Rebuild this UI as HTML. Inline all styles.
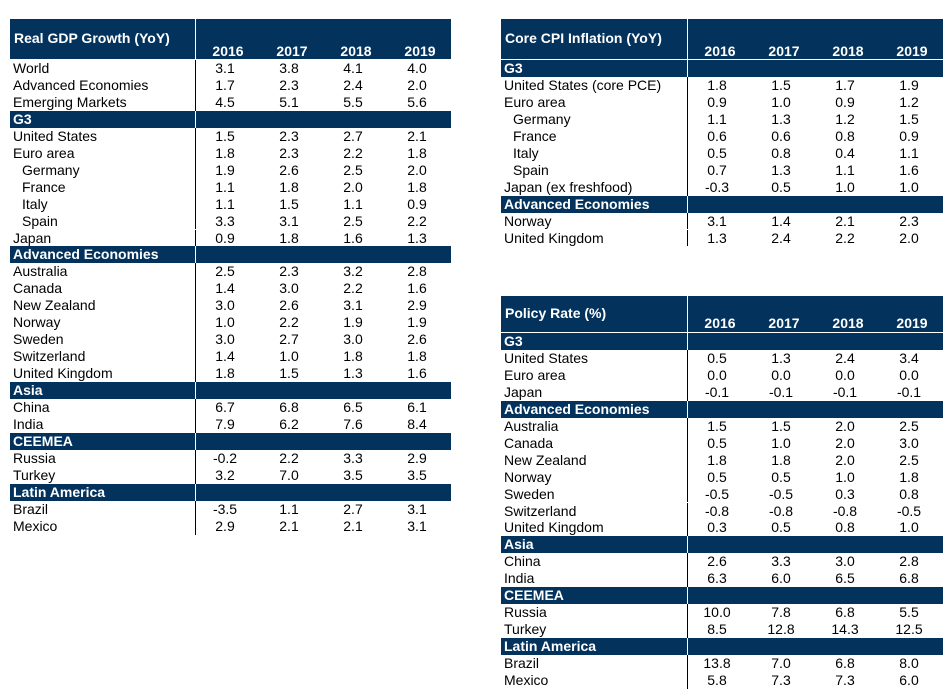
<!DOCTYPE html>
<html><head><meta charset="utf-8">
<style>
body{margin:0;width:943px;height:689px;background:#fff;position:relative;overflow:hidden;font-family:"Liberation Sans",Arial,sans-serif;}
.t{position:absolute;}
.hd{position:absolute;background:#03335d;color:#fff;font-weight:bold;font-size:14px;}
.row{position:absolute;height:17px;font-size:14px;line-height:17px;color:#000;}
.bar{background:#03335d;color:#fff;font-weight:bold;}
.c{position:absolute;text-align:center;width:60px;}
.lbl{position:absolute;white-space:nowrap;}
.vl{position:absolute;width:1px;background:#000;}
.wl{position:absolute;width:1px;background:#fff;}
</style></head><body>
<script>
// Real GDP growth
const gdpLabels=["World","Advanced Economies","Emerging Markets","#G3","United States","Euro area",">Germany",">France",">Italy",">Spain","Japan","#Advanced Economies","Australia","Canada","New Zealand","Norway","Sweden","Switzerland","United Kingdom","#Asia","China","India","#CEEMEA","Russia","Turkey","#Latin America","Brazil","Mexico"];
const gdpValues=[["3.1","3.8","4.1","4.0"],["1.7","2.3","2.4","2.0"],["4.5","5.1","5.5","5.6"],null,["1.5","2.3","2.7","2.1"],["1.8","2.3","2.2","1.8"],["1.9","2.6","2.5","2.0"],["1.1","1.8","2.0","1.8"],["1.1","1.5","1.1","0.9"],["3.3","3.1","2.5","2.2"],["0.9","1.8","1.6","1.3"],null,["2.5","2.3","3.2","2.8"],["1.4","3.0","2.2","1.6"],["3.0","2.6","3.1","2.9"],["1.0","2.2","1.9","1.9"],["3.0","2.7","3.0","2.6"],["1.4","1.0","1.8","1.8"],["1.8","1.5","1.3","1.6"],null,["6.7","6.8","6.5","6.1"],["7.9","6.2","7.6","8.4"],null,["-0.2","2.2","3.3","2.9"],["3.2","7.0","3.5","3.5"],null,["-3.5","1.1","2.7","3.1"],["2.9","2.1","2.1","3.1"]];
// Core CPI
const cpiLabels=["#G3","United States (core PCE)","Euro area",">Germany",">France",">Italy",">Spain","Japan (ex freshfood)","#Advanced Economies","Norway","United Kingdom"];
const cpiValues=[null,["1.8","1.5","1.7","1.9"],["0.9","1.0","0.9","1.2"],["1.1","1.3","1.2","1.5"],["0.6","0.6","0.8","0.9"],["0.5","0.8","0.4","1.1"],["0.7","1.3","1.1","1.6"],["-0.3","0.5","1.0","1.0"],null,["3.1","1.4","2.1","2.3"],["1.3","2.4","2.2","2.0"]];
// Policy rate
const polLabels=["#G3","United States","Euro area","Japan","#Advanced Economies","Australia","Canada","New Zealand","Norway","Sweden","Switzerland","United Kingdom","#Asia","China","India","#CEEMEA","Russia","Turkey","#Latin America","Brazil","Mexico"];
const polValues=[null,["0.5","1.3","2.4","3.4"],["0.0","0.0","0.0","0.0"],["-0.1","-0.1","-0.1","-0.1"],null,["1.5","1.5","2.0","2.5"],["0.5","1.0","2.0","3.0"],["1.8","1.8","2.0","2.5"],["0.5","0.5","1.0","1.8"],["-0.5","-0.5","0.3","0.8"],["-0.8","-0.8","-0.8","-0.5"],["0.3","0.5","0.8","1.0"],null,["2.6","3.3","3.0","2.8"],["6.3","6.0","6.5","6.8"],null,["10.0","7.8","6.8","5.5"],["8.5","12.8","14.3","12.5"],null,["13.8","7.0","6.8","8.0"],["5.8","7.3","7.3","6.0"]];
const years=["2016","2017","2018","2019"];

function build(name,title,labels,values,x0,x1,div,y0,hh,titleY,yearsY,rowH){
  const w=document.createElement('div');
  w.className='t';
  
  
  document.body.appendChild(w);
  const hd=document.createElement('div');
  hd.className='hd';
  
  
  hd.style.cssText=`left:${x0}px;top:${y0}px;width:${x1-x0}px;height:${hh}px;`;
  const tt=document.createElement('div');
  tt.className='lbl';
  
  
  tt.style.cssText=`left:4px;top:${titleY}px;`;
  tt.textContent=title;
  hd.appendChild(tt);
  years.forEach((yr,i)=>{
    const c=document.createElement('div');
    c.className='c';
    
    
    c.style.cssText=`left:${div-x0+3+i*64}px;top:${yearsY}px;`;
    c.textContent=yr;
    hd.appendChild(c);
  });
  w.appendChild(hd);
  const wl=document.createElement('div');
  wl.className='wl';
  wl.style.cssText=`left:${div}px;top:${y0}px;height:${hh}px;`;
  w.appendChild(wl);
  let y=y0+hh+1;
  labels.forEach((lab,r)=>{
    const ry=y+r*rowH;
    const row=document.createElement('div');
    row.className='row';
    row.style.cssText=`left:${x0}px;top:${ry}px;width:${x1-x0}px;height:${rowH}px;line-height:${rowH}px;`;
    if(lab[0]==='#'){
      row.classList.add('bar');
      
      
      const l=document.createElement('div');
      l.className='lbl';l.style.left='3px';l.textContent=lab.slice(1);
      row.appendChild(l);
      const s=document.createElement('div');
      s.className='wl';s.style.cssText=`left:${div-x0}px;top:0;height:${rowH}px;`;
      row.appendChild(s);
    } else {
      
      
      const ind=lab[0]==='>';
      const l=document.createElement('div');
      l.className='lbl';l.style.left=(ind?12:3)+'px';l.textContent=ind?lab.slice(1):lab;
      row.appendChild(l);
      const s=document.createElement('div');
      s.className='vl';s.style.cssText=`left:${div-x0}px;top:0;height:${rowH}px;`;
      row.appendChild(s);
      values[r].forEach((v,i)=>{
        const c=document.createElement('div');
        c.className='c';
        
        
        c.style.left=(div-x0+i*64)+'px';
        c.textContent=v;
        row.appendChild(c);
      });
    }
    w.appendChild(row);
  });
}
build('gdp-growth-table','Real GDP Growth (YoY)',gdpLabels,gdpValues,10,451,195,19,40,11,24,16.95);
build('core-cpi-table','Core CPI Inflation (YoY)',cpiLabels,cpiValues,501,943,687,19,40,11,24,16.95);
build('policy-rate-table','Policy Rate (%)',polLabels,polValues,501,943,687,296,36,9,19,16.95);
</script>
</body></html>
